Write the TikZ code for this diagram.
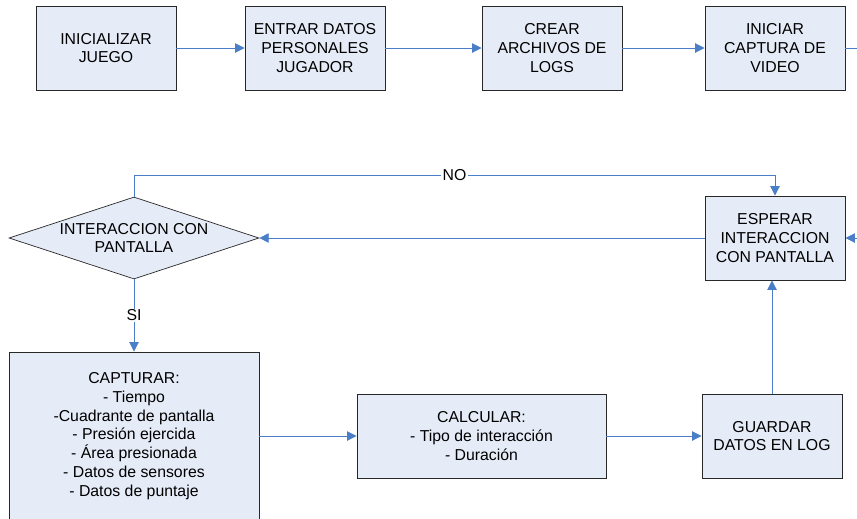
\documentclass[tikz,border=0pt]{standalone}
\usepackage{fontspec}
\setmainfont{Liberation Sans}
\usepackage{tikz}
\usetikzlibrary{arrows.meta,shapes.geometric}
\definecolor{cajafondo}{RGB}{230,236,247}
\definecolor{cajaborde}{RGB}{40,40,40}
\definecolor{flecha}{RGB}{74,126,199}
\tikzset{
  caja/.style={draw=cajaborde,fill=cajafondo,line width=0.8pt,align=center,
    minimum width=4.2cm,minimum height=2.52cm,inner sep=2pt,
    font=\fontsize{13.5}{16.1}\selectfont},
  rombo/.style={draw=cajaborde,fill=cajafondo,line width=0.6pt,diamond,aspect=3.05,
    align=center,inner sep=0pt,minimum width=7.5cm,minimum height=2.46cm,
    font=\fontsize{13.5}{16.1}\selectfont},
  flechaA/.style={draw=flecha,line width=0.8pt,-{Triangle[length=8pt,width=8pt]}},
  linea/.style={draw=flecha,line width=0.8pt},
  etiqueta/.style={fill=white,inner sep=1pt,font=\fontsize{13.5}{15}\selectfont}
}
\begin{document}
\begin{tikzpicture}[x=0.03cm,y=-0.03cm]
\useasboundingbox (0,0) rectangle (857,518);

% fila de arriba
\node [caja] (v1) at (106,48) {INICIALIZAR\\JUEGO};
\node [caja] (v2) at (315,48) {ENTRAR DATOS\\PERSONALES\\JUGADOR};
\node [caja] (v3) at (552,48) {CREAR\\ARCHIVOS DE\\LOGS};
\node [caja] (v4) at (775,48) {INICIAR\\CAPTURA DE\\VIDEO};
\coordinate (v5) at (857,48);

\draw [flechaA] (v1) -- (v2);
\draw [flechaA] (v2) -- (v3);
\draw [flechaA] (v3) -- (v4);
\draw [linea] (v4) -- (v5);

% ciclo de interaccion
\node [rombo] (d1) at (134,238) {INTERACCION CON\\PANTALLA};
\node [caja] (e1) at (775,238) {ESPERAR\\INTERACCION\\CON PANTALLA};
\coordinate (e2) at (857,238);
\node [caja, minimum width=7.5cm, minimum height=5.04cm] (c1) at (134,436)
  {CAPTURAR:\\- Tiempo\\-Cuadrante de pantalla\\- Presión ejercida\\- Área presionada\\- Datos de sensores\\- Datos de puntaje};
\node [caja, minimum width=7.47cm] (c2) at (481.5,436) {CALCULAR:\\- Tipo de interacción\\- Duración};
\node [caja] (g1) at (772,436) {GUARDAR\\DATOS EN LOG};

\draw [flechaA] (e2) -- (e1);
\draw [flechaA] (e1) -- (d1);
\draw [flechaA] (d1.north) -- (134,175) -- node [etiqueta, pos=0.5] {NO} (775,175) -- (e1.north);
\draw [flechaA] (d1.south) -- node [etiqueta] {SI} (c1.north);
\draw [flechaA] (c1) -- (c2);
\draw [flechaA] (c2) -- (g1);
\draw [flechaA] (g1.north) -- (g1.north |- e1.south);
\end{tikzpicture}
\end{document}
